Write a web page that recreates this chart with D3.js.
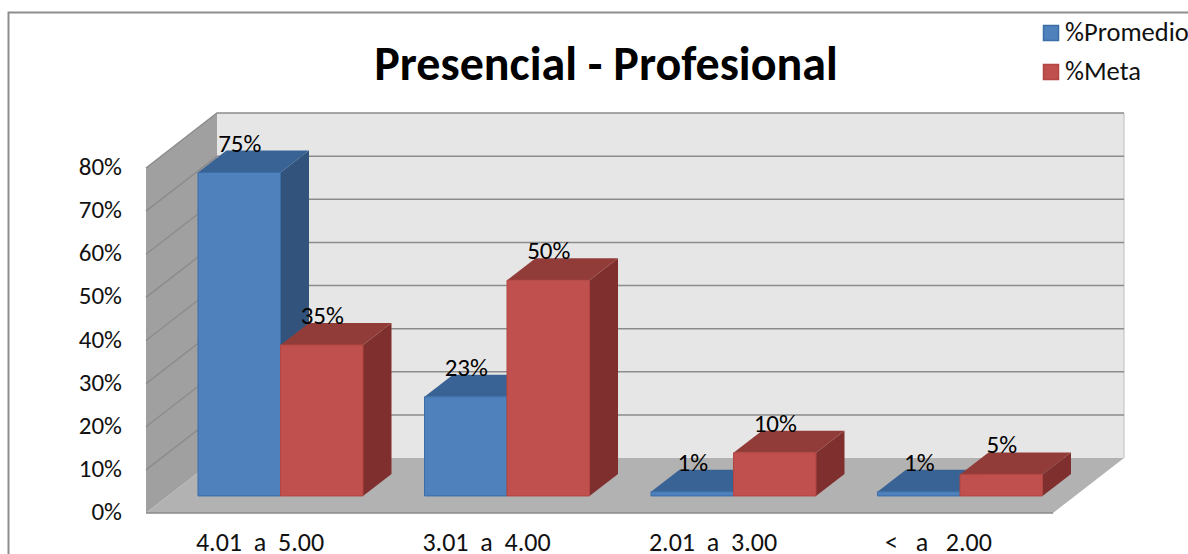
<!DOCTYPE html>
<html><head><meta charset="utf-8">
<style>html,body{margin:0;padding:0;background:#fff;overflow:hidden}svg{display:block}text{font-family:Carlito,Calibri,"Open Sans","Noto Sans",sans-serif}</style>
<script src="https://cdn.jsdelivr.net/npm/d3@7"></script></head><body><script>
const categories=["4.01  a  5.00","3.01  a  4.00","2.01  a  3.00","<   a   2.00"];
const promedio=[75,23,1,1];
const meta=[35,50,10,5];
const yTicks=[0,10,20,30,40,50,60,70,80];
const seriesNames=["%Promedio","%Meta"];
const title="Presencial - Profesional";

const W=1188,H=554;
const svg=d3.select("body").append("svg").attr("width",W).attr("height",H);
const y=d3.scaleLinear().domain([0,80]).range([0,345]);
const x0=146,x1=1053,yFloor=513,wallDx=71,wallDy=-55;
const pt=(x,z,v)=>[x+z*wallDx,yFloor+z*wallDy-y(v)];
const poly=(pts,fill,stroke)=>svg.append("polygon").attr("points",pts.map(p=>p.join(",")).join(" ")).attr("fill",fill).attr("stroke",stroke||"none").attr("stroke-width",stroke?1:0);

svg.append("rect").attr("x",8.5).attr("y",12.5).attr("width",1185).attr("height",560).attr("fill","#fff").attr("stroke","#8e8e8e").attr("stroke-width",2);

poly([pt(x0,1,0),pt(x1,1,0),pt(x1,1,80),pt(x0,1,80)],"#e6e6e6");
poly([pt(x0,0,0),pt(x0,1,0),pt(x0,1,80),pt(x0,0,80)],"#a0a0a0");
poly([pt(x0,0,0),pt(x1,0,0),pt(x1,1,0),pt(x0,1,0)],"#b2b2b2");
svg.append("line").attr("x1",x0).attr("x2",x1).attr("y1",yFloor).attr("y2",yFloor).attr("stroke","#8a8a8a").attr("stroke-width",1.5);
svg.append("line").attr("x1",pt(x1,1,0)[0]).attr("x2",pt(x1,1,0)[0]).attr("y1",pt(x1,1,0)[1]).attr("y2",pt(x1,1,80)[1]).attr("stroke","#bdbdbd");

yTicks.forEach(t=>{
  const a=pt(x0,0,t),b=pt(x0,1,t),c=pt(x1,1,t);
  if(t>0){
    svg.append("polyline").attr("points",[a,b,c].map(p=>p.join(",")).join(" ")).attr("fill","none").attr("stroke","#8c8c8c").attr("stroke-width",1.5);
  }
  svg.append("text").attr("x",122).attr("y",a[1]+7).attr("text-anchor","end").attr("font-size",25).attr("fill","#111").text(t+"%");
});

const band=d3.scaleBand().domain(categories).range([198,198+906]).paddingInner(0).paddingOuter(0);
const barW=82.5;
const zFront=0.31;
const colors=[{f:"#4f81bd",t:"#386394",s:"#31537c",e:"#3a6ea5"},{f:"#c0504d",t:"#923c39",s:"#7f302e",e:"#b24643"}];
const off=[0,barW];
[promedio,meta].forEach((vals,si)=>{
  const c=colors[si];
  vals.forEach((v,i)=>{
    const bx=band(categories[i])+off[si];
    const a=pt(bx-zFront*wallDx,zFront,v),b=pt(bx+barW-zFront*wallDx,zFront,v);
    const b0=pt(bx-zFront*wallDx,zFront,0),c0=pt(bx+barW-zFront*wallDx,zFront,0);
    const a2=[a[0]+28.5,a[1]-22],b2=[b[0]+28.5,b[1]-22],c2=[c0[0]+28.5,c0[1]-22];
    poly([b,b2,c2,c0],c.s);
    poly([a,a2,b2,b],c.t);
    poly([a,b,c0,b0],c.f,c.e);
  });
});

[promedio,meta].forEach((vals,si)=>vals.forEach((v,i)=>{
  const bx=band(categories[i])+off[si];
  const a=pt(bx-zFront*wallDx,zFront,v);
  svg.append("text").attr("x",a[0]+barW/2+0.5).attr("y",a[1]-21).attr("text-anchor","middle").attr("font-size",25).attr("fill","#000").text(v+"%");
}));

categories.forEach((c,i)=>{
  svg.append("text").attr("x",band(c)+[62,62,62,61][i]).attr("y",551).attr("text-anchor","middle").style("white-space","pre").attr("font-size",26).attr("fill","#111").text(c);
});

svg.append("text").attr("x",606).attr("y",80).attr("text-anchor","middle").attr("font-size",48).attr("font-weight","bold").attr("fill","#000").text(title);

seriesNames.forEach((n,i)=>{
  const ly=[33,72][i];
  svg.append("rect").attr("x",1043.5).attr("y",ly-7.5).attr("width",15).attr("height",15).attr("fill",colors[i].f).attr("stroke",colors[i].e).attr("stroke-width",1.5);
  svg.append("text").attr("x",1065).attr("y",ly+8).attr("font-size",26.5).attr("fill","#111").text(n);
});
</script></body></html>
